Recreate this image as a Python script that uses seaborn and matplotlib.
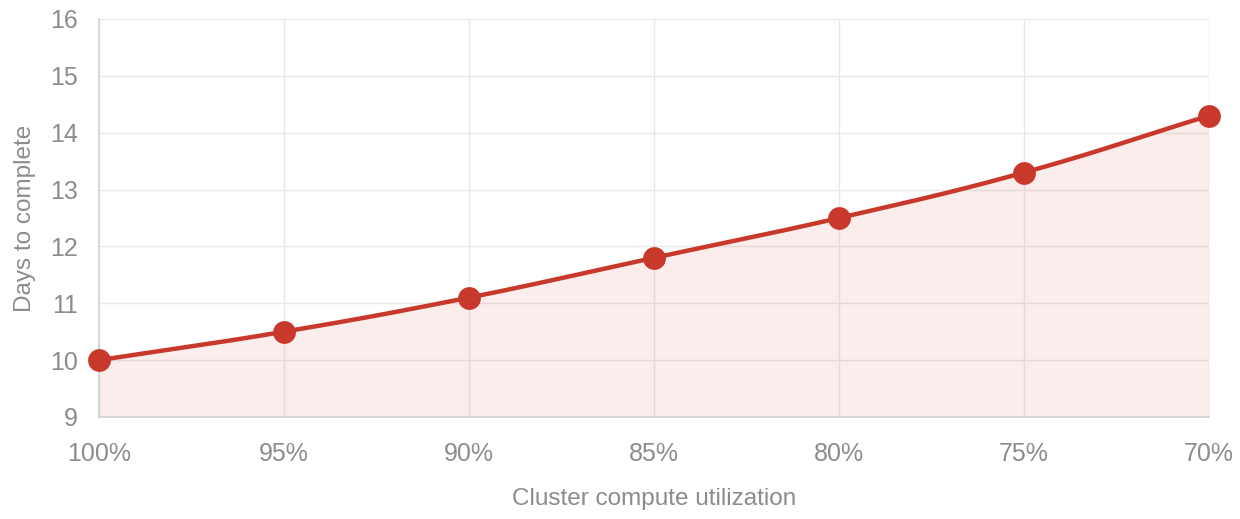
import numpy as np
import pandas as pd
import matplotlib
matplotlib.use("Agg")
import matplotlib.pyplot as plt
import seaborn as sns

categories = ["100%", "95%", "90%", "85%", "80%", "75%", "70%"]
days = [10.0, 10.5, 11.1, 11.8, 12.5, 13.3, 14.3]
y_ticks = [9, 10, 11, 12, 13, 14, 15, 16]

sns.set_theme(style="white")
plt.rcParams["font.family"] = ["Liberation Sans", "DejaVu Sans"]

RED = "#c9392b"
GRID = "#e8e8e8"
AXIS = "#d2d2d2"
TEXT = "#8c8c8c"

df = pd.DataFrame({"pos": np.arange(len(categories)), "days": days})

fig = plt.figure(figsize=(12.4, 5.19), dpi=100)
ax = fig.add_axes([99 / 1240, 102 / 519, 1110 / 1240, 398 / 519])

# Chart.js-like tension spline (tension 0.4), computed in pixel-like space
sx, sy = 185.0, 56.86
P = np.column_stack([df["pos"].values * sx, df["days"].values * sy])
n = len(P)
t = 0.4
cp_prev = P.copy()
cp_next = P.copy()
for i in range(n):
    p0 = P[i - 1] if i > 0 else P[i]
    p2 = P[i + 1] if i < n - 1 else P[i]
    d01 = np.hypot(*(P[i] - p0))
    d12 = np.hypot(*(p2 - P[i]))
    s = d01 + d12
    fa = t * d01 / s if s else 0
    fb = t * d12 / s if s else 0
    cp_prev[i] = P[i] - fa * (p2 - p0)
    cp_next[i] = P[i] + fb * (p2 - p0)
pts = []
u = np.linspace(0, 1, 40)[:, None]
for i in range(n - 1):
    a, b, c, d = P[i], cp_next[i], cp_prev[i + 1], P[i + 1]
    seg = (1 - u) ** 3 * a + 3 * (1 - u) ** 2 * u * b + 3 * (1 - u) * u ** 2 * c + u ** 3 * d
    pts.append(seg if i == 0 else seg[1:])
curve = np.vstack(pts)
cx, cy = curve[:, 0] / sx, curve[:, 1] / sy

ax.fill_between(cx, cy, y_ticks[0], color=RED, alpha=0.09, lw=0, zorder=1)
ax.plot(cx, cy, color=RED, lw=3.2, zorder=3, solid_capstyle="round", clip_on=False)
sns.scatterplot(data=df, x="pos", y="days", ax=ax, s=270, color=RED,
                edgecolor=RED, linewidth=0, zorder=4, legend=False, clip_on=False)

ax.set_xlim(0, len(categories) - 1)
ax.set_ylim(y_ticks[0], y_ticks[-1])
ax.set_xticks(df["pos"])
ax.set_xticklabels(categories)
ax.set_yticks(y_ticks)

ax.grid(True, color=GRID, lw=1)
ax.set_axisbelow(True)
for side in ["top", "right"]:
    ax.spines[side].set_visible(False)
for side in ["left", "bottom"]:
    ax.spines[side].set_color(AXIS)
    ax.spines[side].set_linewidth(1.2)

ax.tick_params(axis="both", which="major", length=11, color="#e2e2e2", width=1,
               labelcolor=TEXT, labelsize=18)
ax.tick_params(axis="y", pad=4)
ax.tick_params(axis="x", pad=7)

ax.set_xlabel("Cluster compute utilization", color=TEXT, fontsize=17.5, labelpad=16)
ax.set_ylabel("Days to complete", color=TEXT, fontsize=17.5, labelpad=10)

fig.savefig("out.png", dpi=100)
